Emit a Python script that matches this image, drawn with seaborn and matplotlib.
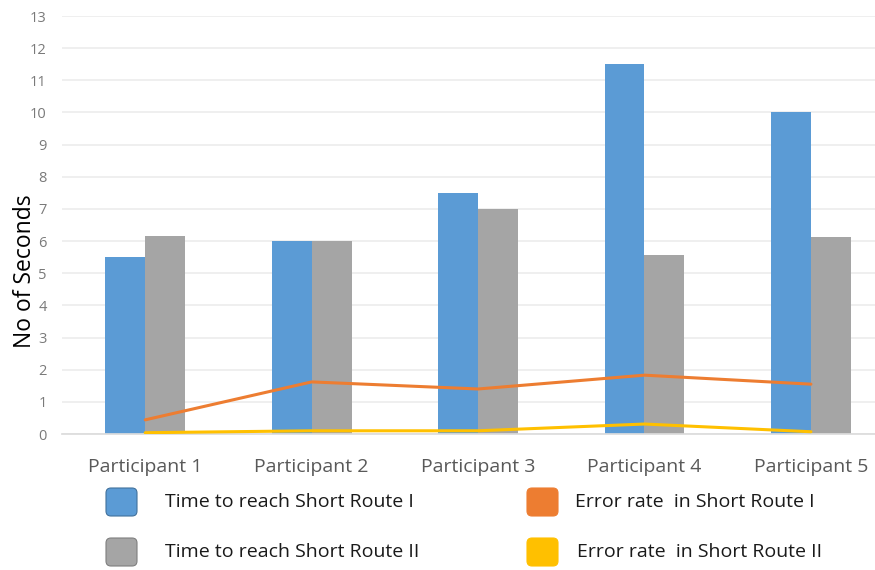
import numpy as np
import pandas as pd
import seaborn as sns
import matplotlib.pyplot as plt
from matplotlib.patches import FancyBboxPatch

participants = ["Participant 1", "Participant 2", "Participant 3", "Participant 4", "Participant 5"]
time_route_1 = [5.5, 6.0, 7.5, 11.5, 10.0]
time_route_2 = [6.15, 6.0, 7.0, 5.57, 6.13]
error_route_1 = [0.44, 1.62, 1.40, 1.83, 1.55]
error_route_2 = [0.04, 0.10, 0.10, 0.31, 0.07]

series_names = [
    "Time to reach Short Route I",
    "Time to reach Short Route II",
    "Error rate  in Short Route I",
    "Error rate  in Short Route II",
]
colors = ["#5B9BD5", "#A5A5A5", "#ED7D31", "#FFC000"]
edge_colors = ["#41719C", "#7F7F7F", "#ED7D31", "#FFC000"]

sns.set_theme(style="white")
plt.rcParams["font.family"] = ["Open Sans", "DejaVu Sans"]

bars = pd.DataFrame({
    "participant": participants * 2,
    "seconds": time_route_1 + time_route_2,
    "series": [series_names[0]] * 5 + [series_names[1]] * 5,
})

fig = plt.figure(figsize=(8.75, 5.7), dpi=100)
ax = fig.add_axes([62 / 875, 1 - 434 / 570, 1 - 62 / 875, (434 - 16) / 570])

sns.barplot(data=bars, x="participant", y="seconds", hue="series",
            palette=colors[:2], width=0.48, gap=0, saturation=1,
            linewidth=0, legend=False, ax=ax, zorder=2)

xpos = np.arange(len(participants))
sns.lineplot(x=xpos, y=error_route_1, color=colors[2], linewidth=2.2, ax=ax, zorder=3)
sns.lineplot(x=xpos, y=error_route_2, color=colors[3], linewidth=2.2, ax=ax, zorder=3)

ax.set_ylim(0, 13)
ax.set_xlim(-0.5, 4.385)
ax.set_yticks(range(0, 14))
ax.yaxis.grid(True, color="#ececec", linewidth=1.2, zorder=0)
ax.set_axisbelow(True)
for s in ["top", "right", "left"]:
    ax.spines[s].set_visible(False)
ax.spines["bottom"].set_color("#dcdcdc")
ax.tick_params(axis="y", length=0, pad=11, labelsize=10.5, labelcolor="#7a7a7a")
ax.tick_params(axis="x", length=0, pad=17, labelsize=14, labelcolor="#595959")
ax.set_xlabel("")
ax.set_ylabel("No of Seconds", fontsize=16.5, color="black")
ax.yaxis.set_label_coords(-0.031, 0.39)

# legend below the axes, 2 x 2 with rounded swatches
legend_items = [
    (106, 502, 165, 0),
    (106, 552, 165, 1),
    (527, 502, 575, 2),
    (527, 552, 577, 3),
]
for sx, sy, tx, i in legend_items:
    patch = FancyBboxPatch((sx / 100, (570 - sy - 14) / 100), 0.31, 0.28,
                           boxstyle="round,pad=0,rounding_size=0.05",
                           facecolor=colors[i], edgecolor=edge_colors[i],
                           linewidth=0.8, transform=fig.dpi_scale_trans)
    fig.add_artist(patch)
    fig.text(tx / 875, 1 - sy / 570, series_names[i], fontsize=14,
             color="#1a1a1a", va="center", ha="left")

fig.savefig("out.png", dpi=100)
